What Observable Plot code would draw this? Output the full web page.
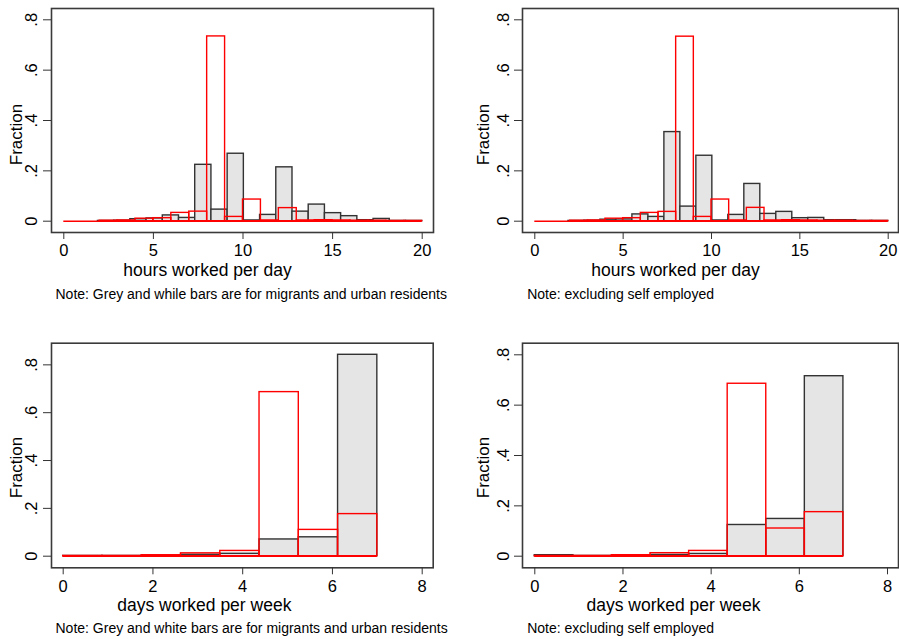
<!DOCTYPE html>
<html><head><meta charset="utf-8">
<script src="https://cdn.jsdelivr.net/npm/d3@7"></script>
<script src="https://cdn.jsdelivr.net/npm/@observablehq/plot@0.6"></script>
<style>
html,body{margin:0;padding:0;background:#fff;}
#root{position:relative;width:899px;height:639px;overflow:hidden;background:#fff;}
.panel{position:absolute;}
</style></head><body><div id="root"></div>
<script>
// ---- Data (fractions) ----
// hours worked per day: migrants use 21 bins from 1 to 20, urban residents 20 bins of width 1 from 0
const hoursMigStart = 1, hoursMigEnd = 20, hoursMigBins = 21;
const hoursUrbStart = 0, hoursUrbEnd = 20, hoursUrbBins = 20;
const hoursMigAll    = [0, 0.001, 0.002, 0.008, 0.011, 0.023, 0.013, 0.224, 0.046, 0.268, 0.003, 0.025, 0.214, 0.038, 0.066, 0.032, 0.020, 0.004, 0.009, 0.001, 0.001];
const hoursUrbAll    = [0, 0, 0.002, 0.003, 0.010, 0.012, 0.033, 0.038, 0.734, 0.017, 0.086, 0.003, 0.052, 0.003, 0.004, 0.003, 0.002, 0.002, 0.001, 0.001];
const hoursMigNoSelf = [0, 0.001, 0.002, 0.006, 0.007, 0.027, 0.017, 0.354, 0.058, 0.260, 0.003, 0.025, 0.148, 0.029, 0.037, 0.012, 0.013, 0.004, 0.004, 0.001, 0.001];
const hoursUrbNoSelf = [0, 0, 0.002, 0.003, 0.010, 0.012, 0.033, 0.037, 0.733, 0.017, 0.086, 0.003, 0.053, 0.003, 0.004, 0.003, 0.002, 0.002, 0.001, 0.001];
// days worked per week: 8 bins from 0 to 7 for both groups
const daysStart = 0, daysEnd = 7, daysBins = 8;
const daysMigAll    = [0.001, 0.001, 0.002, 0.006, 0.010, 0.070, 0.079, 0.842];
const daysUrbAll    = [0.001, 0.001, 0.004, 0.012, 0.022, 0.686, 0.110, 0.176];
const daysMigNoSelf = [0.004, 0.001, 0.002, 0.005, 0.009, 0.124, 0.148, 0.715];
const daysUrbNoSelf = [0.001, 0.001, 0.004, 0.012, 0.021, 0.685, 0.110, 0.175];
// axes / text
const hoursTicks = [0, 5, 10, 15, 20];
const daysTicks = [0, 2, 4, 6, 8];
const yTicks = [0, 0.2, 0.4, 0.6, 0.8];
const yTitle = "Fraction";
const hoursTitle = "hours worked per day";
const daysTitle = "days worked per week";
const noteAllTop = "Note: Grey and while bars are for migrants and urban residents";
const noteAllBottom = "Note: Grey and white bars are for migrants and urban residents";
const noteNoSelf = "Note: excluding self employed";

const FONT = '"Liberation Sans", Arial, Helvetica, sans-serif';

function bins(values, start, end, n) {
  const w = (end - start) / n;
  return values.map((v, i) => ({x1: start + i * w, x2: start + (i + 1) * w, y: v}));
}
const yFmt = d => d === 0 ? "0" : d.toFixed(1).replace(/^0/, "");

function panel(cfg, g) {
  const mig = bins(cfg.mig, cfg.migStart, cfg.migEnd, cfg.migBins);
  const urb = bins(cfg.urb, cfg.urbStart, cfg.urbEnd, cfg.urbBins);
  const yMax = Math.max(0.8, d3.max(cfg.mig), d3.max(cfg.urb));
  const chart = Plot.plot({
    width: g.width, height: g.height,
    marginLeft: g.mL, marginRight: g.mR, marginTop: g.mT, marginBottom: g.mB,
    style: {fontFamily: FONT, fontSize: "16.5px", color: "#000", background: "transparent", overflow: "visible"},
    x: {domain: cfg.xDomain, insetLeft: g.inL, insetRight: g.inR},
    y: {domain: [0, yMax], insetTop: g.inT, insetBottom: g.inB},
    marks: [
      Plot.rect(mig.filter(d => d.y > 0), {x1: "x1", x2: "x2", y1: 0, y2: "y", fill: "#e5e5e5", stroke: "#333", strokeWidth: 1.4}),
      Plot.rect(urb.filter(d => d.y > 0), {x1: "x1", x2: "x2", y1: 0, y2: "y", fill: "none", stroke: "#ff0000", strokeWidth: 1.4}),
      Plot.ruleY([0], {x1: cfg.urbStart, x2: cfg.urbEnd, stroke: "#ff0000", strokeWidth: 1.4}),
      Plot.frame({stroke: "#3a3a3a", strokeWidth: 1.6}),
      Plot.axisX({ticks: cfg.xTicks, tickSize: 7, tickPadding: 5, label: null, stroke: "#333", fontSize: 16.5}),
      Plot.axisY({ticks: yTicks, tickSize: 8, tickFormat: () => "", label: null, stroke: "#333"}),
      Plot.text(yTicks, {y: d => d, text: yFmt, frameAnchor: "left", dx: g.yLabDx, rotate: -90, textAnchor: "middle", lineAnchor: "middle", fontSize: 16.5, fill: "#000"}),
      Plot.text([yTitle], {frameAnchor: "left", dx: g.fracDx, dy: g.fracDy, rotate: -90, textAnchor: "middle", lineAnchor: "middle", fontSize: 17, fill: "#000"}),
      Plot.text([cfg.xTitle], {frameAnchor: "bottom", dx: g.xTitleDx, dy: g.xTitleDy, textAnchor: "middle", lineAnchor: "middle", fontSize: 17.5, fill: "#000"}),
      Plot.text([cfg.note], {frameAnchor: "bottom-left", dx: g.noteDx, dy: g.noteDy, textAnchor: "start", lineAnchor: "middle", fontSize: 14, fill: "#000"})
    ]
  });
  const wrap = document.createElement("div");
  wrap.className = "panel";
  wrap.style.left = g.left + "px";
  wrap.style.top = g.top + "px";
  wrap.appendChild(chart);
  document.getElementById("root").appendChild(wrap);
}

const hoursCfg = (mig, urb, note) => ({mig, urb, migStart: hoursMigStart, migEnd: hoursMigEnd, migBins: hoursMigBins,
  urbStart: hoursUrbStart, urbEnd: hoursUrbEnd, urbBins: hoursUrbBins, xDomain: [0, 20], xTicks: hoursTicks, xTitle: hoursTitle, note});
const daysCfg = (mig, urb, note) => ({mig, urb, migStart: daysStart, migEnd: daysEnd, migBins: daysBins,
  urbStart: daysStart, urbEnd: daysEnd, urbBins: daysBins, xDomain: [0, 8], xTicks: daysTicks, xTitle: daysTitle, note});

panel(hoursCfg(hoursMigAll, hoursUrbAll, noteAllTop),
  {left: 0, top: 0, width: 450, height: 330, mL: 51, mR: 17, mT: 8, mB: 98, inL: 12.3, inR: 11.3, inT: 11.3, inB: 11.3,
   yLabDx: -20, fracDx: -35, fracDy: 14, xTitleDx: -35, xTitleDy: 38, noteDx: 4, noteDy: 62});
panel(hoursCfg(hoursMigNoSelf, hoursUrbNoSelf, noteNoSelf),
  {left: 450, top: 0, width: 449, height: 330, mL: 72, mR: 1, mT: 8, mB: 98, inL: 12.3, inR: 10.3, inT: 11.3, inB: 11.3,
   yLabDx: -18.7, fracDx: -39.3, fracDy: 14, xTitleDx: -35, xTitleDy: 38, noteDx: 4.7, noteDy: 62});
panel(daysCfg(daysMigAll, daysUrbAll, noteAllBottom),
  {left: 0, top: 330, width: 450, height: 309, mL: 51, mR: 17.3, mT: 12.7, mB: 71.7, inL: 11.7, inR: 11, inT: 11.6, inB: 11.6,
   yLabDx: -20, fracDx: -35, fracDy: 12, xTitleDx: -38, xTitleDy: 37.7, noteDx: 4, noteDy: 60.4});
panel(daysCfg(daysMigNoSelf, daysUrbNoSelf, noteNoSelf),
  {left: 450, top: 330, width: 449, height: 309, mL: 72, mR: 1, mT: 12.7, mB: 71.7, inL: 12.3, inR: 11, inT: 11.6, inB: 11.6,
   yLabDx: -18.7, fracDx: -39.3, fracDy: 12, xTitleDx: -37, xTitleDy: 37.7, noteDx: 4.7, noteDy: 60.4});
</script>
</body></html>
